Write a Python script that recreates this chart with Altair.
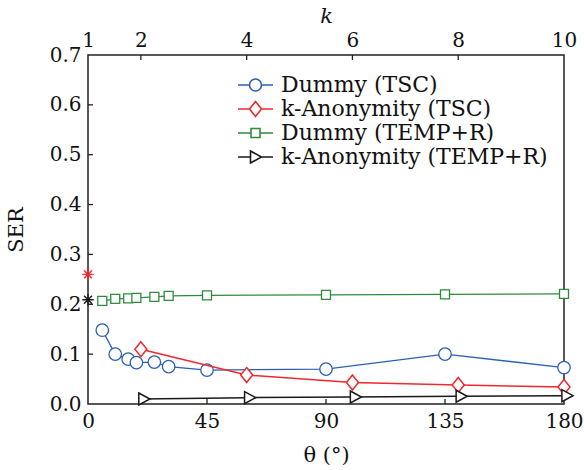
import altair as alt
import pandas as pd

# ---- data ----
theta = [5.4, 10.3, 15.2, 18.3, 25.1, 30.5, 45, 90, 135, 180]
ser_dummy_tsc = [0.148, 0.100, 0.090, 0.083, 0.084, 0.075, 0.068, 0.070, 0.100, 0.073]
ser_dummy_temp = [0.207, 0.211, 0.212, 0.213, 0.215, 0.217, 0.218, 0.219, 0.220, 0.221]
k_vals = [2, 4, 6, 8, 10]
ser_kanon_tsc = [0.110, 0.058, 0.043, 0.038, 0.034]
ser_kanon_temp = [0.010, 0.0127, 0.014, 0.0155, 0.0167]
star_theta = [0, 0]
star_ser = [0.260, 0.209]
star_color = ["#f0282d", "#1a1a1a"]

series_names = ["Dummy (TSC)", "k-Anonymity (TSC)", "Dummy (TEMP+R)", "k-Anonymity (TEMP+R)"]
colors = ["#2b5fb5", "#f0282d", "#2e8b3e", "#1a1a1a"]

theta_ticks = [0, 45, 90, 135, 180]
k_ticks = [1, 2, 4, 6, 8, 10]
ser_ticks = [0.0, 0.1, 0.2, 0.3, 0.4, 0.5, 0.6, 0.7]

FONT = "DejaVu Serif"
FS_TICK = 20
FS_TITLE = 21
FS_LEG = 22
W, H = 476, 349

# marker shapes
DIAMOND = "M0,-1L0.8,0L0,1L-0.8,0Z"
TRI = "M-0.35,-1L1.5,0L-0.35,1Z"
STAR = "M-1,0H1M0,-1V1M-0.7,-0.7L0.7,0.7M-0.7,0.7L0.7,-0.7"
LEG = [
    "M-1.75,0H-0.6M0.6,0H1.75M-0.6,0A0.6,0.6 0 1,0 0.6,0A0.6,0.6 0 1,0 -0.6,0",
    "M-1.75,0H-0.6M0.6,0H1.75M0,-0.75L0.6,0L0,0.75L-0.6,0Z",
    "M-1.75,0H-0.45M0.45,0H1.75M-0.45,-0.45H0.45V0.45H-0.45Z",
    "M-1.75,0H-0.5M0.6,0H1.75M-0.5,-0.6L0.6,0L-0.5,0.6Z",
]

df_dt = pd.DataFrame({"theta": theta, "ser": ser_dummy_tsc})
df_dr = pd.DataFrame({"theta": theta, "ser": ser_dummy_temp})
df_kt = pd.DataFrame({"k": k_vals, "ser": ser_kanon_tsc})
df_kr = pd.DataFrame({"k": k_vals, "ser": ser_kanon_temp})
df_star = pd.DataFrame({"theta": star_theta, "ser": star_ser, "c": star_color})
df_leg = pd.DataFrame({"series": series_names})
df_yt = pd.DataFrame({"ser": ser_ticks[1:-1]})
df_xt = pd.DataFrame({"theta": theta_ticks[1:-1]})
df_kt_ticks = pd.DataFrame({"k": k_ticks[1:-1]})

y_scale = alt.Scale(domain=[0, 0.7], nice=False, zero=False)
y_axis = alt.Axis(values=ser_ticks, format=".1f", title="SER", ticks=False, domain=False,
                  grid=False, labelPadding=7, titlePadding=23, labelFlush=False,
                  titleFont=FONT, labelFont=FONT)
th_scale = alt.Scale(domain=[0, 180], nice=False, zero=False)
th_axis = alt.Axis(values=theta_ticks, title="θ (°)", orient="bottom", ticks=False, domain=False,
                   grid=False, labelPadding=7, titlePadding=13, labelFlush=False,
                   titleFont=FONT, labelFont=FONT)
k_scale = alt.Scale(domain=[1, 10], nice=False, zero=False)
k_axis = alt.Axis(values=k_ticks, title="k", orient="top", ticks=False, domain=False,
                  grid=False, labelPadding=5, titlePadding=4, labelFlush=False,
                  titleFontStyle="italic", titleFont=FONT, labelFont=FONT)

Y = alt.Y("ser:Q", scale=y_scale, axis=y_axis)
XT = alt.X("theta:Q", scale=th_scale, axis=th_axis)
XK = alt.X("k:Q", scale=k_scale, axis=k_axis)


def series(df, x, color, shape, size, sw):
    line = alt.Chart(df).mark_line(color=color, strokeWidth=sw).encode(x=x, y=Y)
    pts = alt.Chart(df).mark_point(shape=shape, size=size, filled=True, fill="white",
                                   stroke=color, strokeWidth=sw, opacity=1).encode(x=x, y=Y)
    return line + pts


leg = alt.Legend(orient="none", legendX=156.5, legendY=19, title=None, symbolSize=400,
                 symbolStrokeWidth=1.6, labelFont=FONT, labelFontSize=FS_LEG, labelOffset=14.5,
                 rowPadding=2, padding=0, symbolOpacity=1, labelColor="#111",
                 symbolFillColor="transparent", labelLimit=500)
legend_layer = alt.Chart(df_leg).mark_point(filled=False, opacity=0).encode(
    color=alt.Color("series:N", scale=alt.Scale(domain=series_names, range=colors), legend=leg),
    shape=alt.Shape("series:N", scale=alt.Scale(domain=series_names, range=LEG), legend=leg),
)

stars = alt.Chart(df_star).mark_point(shape=STAR, size=130, strokeWidth=1.4, opacity=1,
                                      filled=False).encode(
    x=XT, y=Y, stroke=alt.Stroke("c:N", scale=None))

ytick = alt.Chart(df_yt).mark_rule(color="#222", strokeWidth=1.3).encode(
    y=Y, x=alt.value(0), x2=alt.value(5))
xtick = alt.Chart(df_xt).mark_rule(color="#222", strokeWidth=1.3).encode(
    x=XT, y=alt.value(H), y2=alt.value(H - 5))
ktick = alt.Chart(df_kt_ticks).mark_rule(color="#222", strokeWidth=1.3).encode(
    x=XK, y=alt.value(0), y2=alt.value(5))

theta_layer = alt.layer(
    ytick, xtick,
    series(df_dr, XT, colors[2], "square", 81, 1.3),
    series(df_dt, XT, colors[0], "circle", 156, 1.3),
    stars,
    legend_layer,
)
k_layer = alt.layer(
    ktick,
    series(df_kt, XK, colors[1], DIAMOND, 225, 1.5),
    series(df_kr, XK, colors[3], TRI, 144, 1.5),
)

chart = alt.layer(theta_layer, k_layer).resolve_scale(x="independent").properties(
    width=W, height=H,
    padding={"left": 88, "top": 55, "right": 20, "bottom": 66},
    autosize=alt.AutoSizeParams(type="none"),
).configure(font=FONT).configure_view(stroke="#222", strokeWidth=1.5).configure_axis(
    labelFont=FONT, labelFontSize=FS_TICK, titleFont=FONT, titleFontSize=FS_TITLE,
    labelColor="#111", titleColor="#111", titleFontWeight="normal",
).configure_legend(labelFont=FONT, titleFont=FONT)

chart.save("out.html", embed_options={"renderer": "svg", "actions": False})
